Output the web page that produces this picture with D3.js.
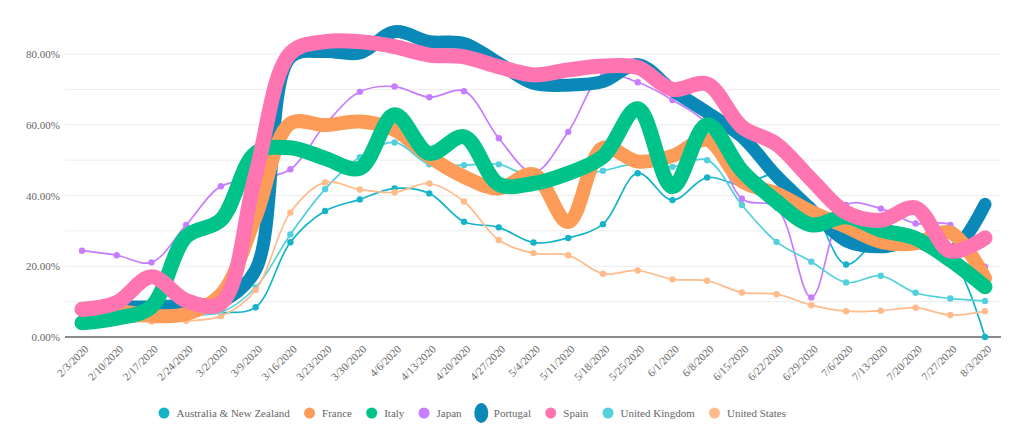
<!DOCTYPE html>
<html><head><meta charset="utf-8">
<script src="https://cdn.jsdelivr.net/npm/d3@7/dist/d3.min.js"></script>
<style>
body{margin:0;background:#fff}
svg{display:block}
text{font-family:"Liberation Serif","Times New Roman",serif}
</style>
</head><body>
<svg id="c" width="1024" height="432" font-family="Liberation Serif, Times New Roman, serif"></svg>
<script>
const dates = ["2/3/2020","2/10/2020","2/17/2020","2/24/2020","3/2/2020","3/9/2020","3/16/2020","3/23/2020","3/30/2020","4/6/2020","4/13/2020","4/20/2020","4/27/2020","5/4/2020","5/11/2020","5/18/2020","5/25/2020","6/1/2020","6/8/2020","6/15/2020","6/22/2020","6/29/2020","7/6/2020","7/13/2020","7/20/2020","7/27/2020","8/3/2020"];

const australia = [4.5, 5, 5.5, 6, 6.8, 8.4, 26.8, 35.6, 38.9, 42.0, 40.6, 32.6, 31.0, 26.7, 28.0, 31.9, 46.3, 38.7, 45.1, 43, 46, 37.3, 20.5, 28, 27, 23, 0];
const france    = [8, 7.5, 6, 6.5, 12, 34, 60.4, 59.9, 60.9, 58.5, 51, 45.3, 42, 46, 32.5, 53.5, 49.6, 51.2, 55.7, 44, 40.6, 35.4, 31.2, 26.9, 26.5, 29.5, 16.6];
const italy     = [4, 5.3, 8.6, 28.4, 33.1, 52, 53.5, 50.5, 47.7, 62.8, 51.9, 56.6, 43.2, 43.4, 46.3, 51, 64.5, 42.5, 60, 47, 38.3, 31.7, 34, 30.2, 27.9, 21.8, 14.2];
const japan     = [24.4, 23.1, 21.1, 31.7, 42.6, 44.5, 47.4, 60, 69.3, 70.8, 67.8, 69.5, 56.2, 46.5, 58, 74, 72, 67, 60, 39.1, 36.6, 11.2, 37.3, 36.3, 32.1, 31.7, 19.9];
const portugal  = [8, 8.5, 8.5, 9, 10, 19, 79, 80.7, 80.3, 86.3, 83.5, 83, 77.4, 71.7, 71.2, 72.2, 77, 69.8, 63.5, 56.6, 45.5, 36, 27.2, 25.5, 27, 24, 37.5];
const spain     = [7.8, 9.7, 17, 10.3, 9.5, 46, 80.2, 83.5, 83.5, 82.1, 79.7, 79.2, 76.4, 74.1, 75.5, 76.6, 76.2, 70, 71.5, 59.4, 54.5, 44.5, 35.2, 33, 36.5, 24.3, 28];
const uk        = [5, 5.5, 6, 6.5, 7, 14.0, 29.0, 41.8, 50.8, 55, 48.8, 48.6, 48.8, 45, 45, 47, 49, 48.1, 50, 37.3, 26.9, 21.3, 15.4, 17.3, 12.5, 10.9, 10.2];
const us        = [4, 4.2, 4.4, 4.6, 5.9, 13.3, 35.2, 43.7, 41.7, 40.9, 43.4, 38.3, 27.4, 23.7, 23.1, 17.9, 18.8, 16.3, 15.9, 12.6, 12.1, 9.0, 7.3, 7.4, 8.3, 6.2, 7.3];

const seriesNames = ["Australia & New Zealand","France","Italy","Japan","Portugal","Spain","United Kingdom","United States"];
const seriesValues = [australia, france, italy, japan, portugal, spain, uk, us];
const seriesColors = ["#14b4c8","#fd9c58","#00c38a","#c77dff","#0a89b8","#ff75b1","#52d0dc","#ffbb8c"];
const thickSeries = ["Portugal","France","Italy","Spain"];
const yTicks = [0,20,40,60,80];
const yGrid = [10,20,30,40,50,60,70,80];

const svg = d3.select("#c");
const x = d3.scalePoint().domain(dates).range([82,985]);
const y = d3.scaleLinear().domain([0,80]).range([337,54]);

// gridlines
svg.append("g").selectAll("line").data(yGrid).join("line")
  .attr("x1",65).attr("x2",1001)
  .attr("y1",d=>y(d)).attr("y2",d=>y(d))
  .attr("stroke","#ececec").attr("stroke-width",1);

// y axis
const yAxis = d3.axisLeft(y).tickValues(yTicks).tickFormat(d=>d.toFixed(2)+"%").tickSize(0).tickPadding(0);
const gy = svg.append("g").attr("transform","translate(60,0)").call(yAxis);
gy.select(".domain").remove();
gy.attr("font-family","Liberation Serif, Times New Roman, serif").attr("font-size",11);
gy.selectAll("text").attr("fill","#666");

// x axis
const xAxis = d3.axisBottom(x).tickSize(0).tickPadding(0);
const gx = svg.append("g").attr("transform","translate(0,337)").call(xAxis);
gx.select(".domain").remove();
gx.attr("font-family","Liberation Serif, Times New Roman, serif").attr("font-size",11);
gx.selectAll("text")
  .attr("fill","#666")
  .attr("text-anchor","end")
  .attr("x",0).attr("y",0).attr("dy","0.35em")
  .attr("transform","translate(4,10) rotate(-45)");

svg.append("line").attr("x1",65).attr("x2",1001).attr("y1",y(0)).attr("y2",y(0))
  .attr("stroke","#666").attr("stroke-width",1.5);

const line = d3.line().x((d,i)=>x(dates[i])).y(d=>y(d)).curve(d3.curveCatmullRom.alpha(0.5));

const series = seriesNames.map((n,i)=>({name:n, values:seriesValues[i], color:seriesColors[i]}));
const thin = series.filter(s=>!thickSeries.includes(s.name));
const thick = thickSeries.map(n=>series.find(s=>s.name===n));
const widths = {"Portugal":13,"France":14,"Italy":15,"Spain":15};

const gThin = svg.append("g");
thin.forEach(s=>{
  gThin.append("path").attr("d",line(s.values)).attr("fill","none")
    .attr("stroke",s.color).attr("stroke-width",1.7);
  gThin.append("g").selectAll("circle").data(s.values).join("circle")
    .attr("cx",(d,i)=>x(dates[i])).attr("cy",d=>y(d)).attr("r",3.2).attr("fill",s.color);
});
const gThick = svg.append("g");
thick.forEach(s=>{
  gThick.append("path").attr("d",line(s.values)).attr("fill","none")
    .attr("stroke",s.color).attr("stroke-width",widths[s.name])
    .attr("stroke-linecap","round").attr("stroke-linejoin","round");
});

// legend
const lg = svg.append("g").attr("font-family","Liberation Serif, Times New Roman, serif");
let cx = 164; const ly = 413;
series.forEach(s=>{
  if(s.name==="Portugal"){
    lg.append("ellipse").attr("cx",cx).attr("cy",ly).attr("rx",7).attr("ry",10).attr("fill",s.color);
  } else {
    lg.append("circle").attr("cx",cx).attr("cy",ly).attr("r",5.5).attr("fill",s.color);
  }
  const t = lg.append("text").attr("x",cx+12.5).attr("y",ly).attr("dy","0.35em")
    .attr("font-size",11).attr("fill","#666").text(s.name);
  cx = cx + 12.5 + t.node().getComputedTextLength() + 19.7;
});
</script>
</body></html>
